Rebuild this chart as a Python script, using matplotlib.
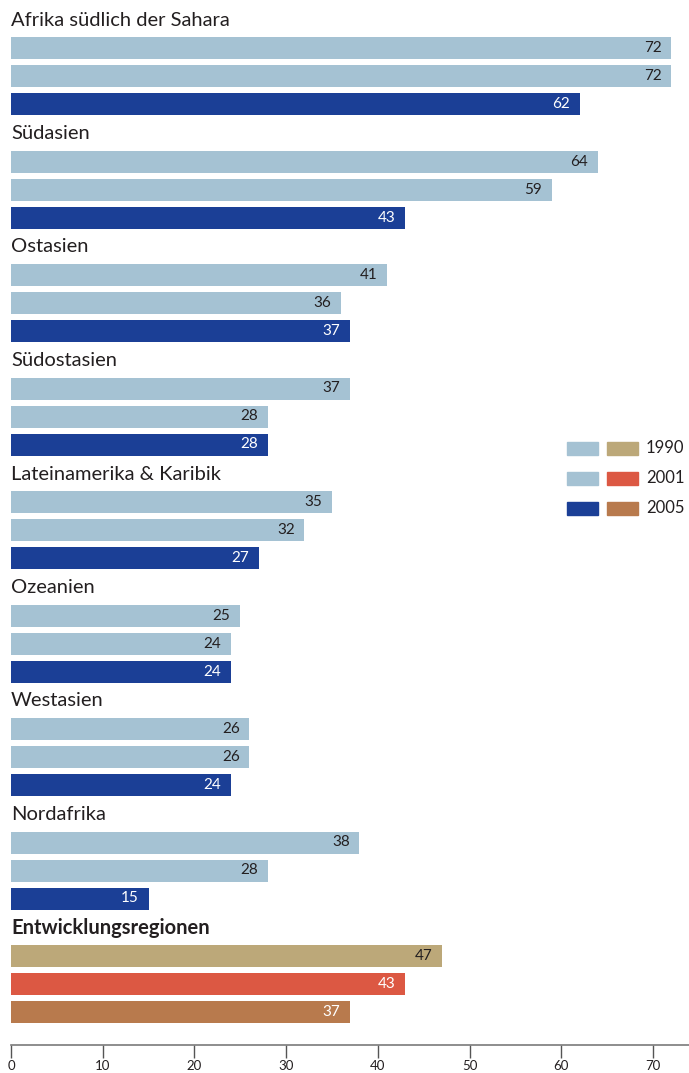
import matplotlib
matplotlib.use("Agg")
import matplotlib.pyplot as plt
from matplotlib.patches import Rectangle

# data
regions = ["Afrika südlich der Sahara", "Südasien", "Ostasien", "Südostasien",
           "Lateinamerika & Karibik", "Ozeanien", "Westasien", "Nordafrika",
           "Entwicklungsregionen"]
v1990 = [72, 64, 41, 37, 35, 25, 26, 38, 47]
v2001 = [72, 59, 36, 28, 32, 24, 26, 28, 43]
v2005 = [62, 43, 37, 28, 27, 24, 24, 15, 37]
years = ["1990", "2001", "2005"]
ticks = [0, 10, 20, 30, 40, 50, 60, 70]

light = "#a5c2d3"
dark = "#1b3f96"
total_cols = ["#bca879", "#dc5843", "#b87a4d"]
txt = "#231f20"

plt.rcParams["font.family"] = ["Lato", "DejaVu Sans"]

W, H = 689, 1073
fig = plt.figure(figsize=(W / 100, H / 100), dpi=100)
axis_y = 1044.5
ax = fig.add_axes([11 / W, 1 - axis_y / H, 1 - 11 / W, axis_y / H])
ax.set_xlim(0, (W - 11) / 9.17)
ax.set_ylim(axis_y, 0)

pitch = 113.5
bar_h = 22
for i, name in enumerate(regions):
    ty = 20 + i * pitch
    last = i == len(regions) - 1
    ax.text(0, ty, name, fontsize=14.5, color=txt, va="center", ha="left",
            fontweight="bold" if last else "normal")
    vals = [v1990[i], v2001[i], v2005[i]]
    if last:
        cols = total_cols
        tcols = [txt, "white", "white"]
    else:
        cols = [light, light, dark]
        tcols = [txt, txt, "white"]
    for j, v in enumerate(vals):
        cy = ty + 28 * (j + 1)
        ax.barh(cy, v, height=bar_h, color=cols[j], left=0)
        ax.annotate(str(v), (v, cy), xytext=(-7, 0), textcoords="offset points",
                    ha="right", va="center", fontsize=11, color=tcols[j])

# legend
for k, y in enumerate(years):
    ly = 448 + 30 * k
    c1 = dark if k == 2 else light
    fig.patches.append(Rectangle((567 / W, 1 - (ly + 7) / H), 31 / W, 13 / H,
                                 transform=fig.transFigure, color=c1))
    fig.patches.append(Rectangle((607 / W, 1 - (ly + 7) / H), 31 / W, 13 / H,
                                 transform=fig.transFigure, color=total_cols[k]))
    fig.text(646 / W, 1 - ly / H, y, fontsize=12, color=txt, va="center", ha="left")

for s in ["top", "right", "left"]:
    ax.spines[s].set_visible(False)
ax.spines["bottom"].set_color("#7a7a7a")
ax.spines["bottom"].set_linewidth(1.2)
ax.set_yticks([])
ax.set_xticks(ticks)
ax.tick_params(axis="x", length=9, width=1, color="#555555", labelsize=9.5,
               labelcolor=txt, pad=2.5)

fig.savefig("out.png", dpi=100)
